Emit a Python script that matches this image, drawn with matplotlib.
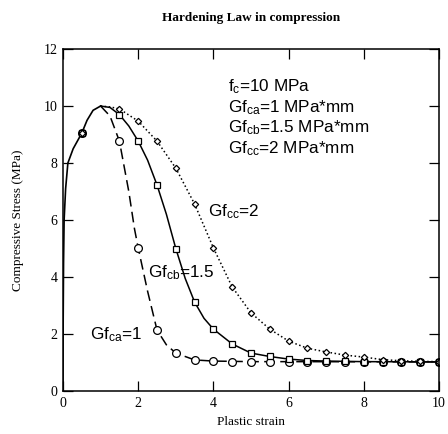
"""
Hardening law in compression: stress vs plastic strain for three fracture energies
"""

import matplotlib
matplotlib.use('Agg')
import matplotlib.pyplot as plt

# shared hardening branch (up to peak fc)
rise_x = [0.0, 0.005, 0.015, 0.03, 0.07, 0.13, 0.27, 0.5, 0.64, 0.8, 1.0]
rise_y = [0.0, 2.5, 4.5, 6.0, 7.1, 8.0, 8.5, 9.05, 9.5, 9.85, 10.0]

# softening branches
a_x = [1.0, 1.25, 1.5, 1.75, 1.9, 2.0, 2.25, 2.5, 2.75, 3.0, 3.5, 4.0, 5.0, 6.0, 10.0]
a_y = [10.0, 9.65, 8.77, 7.0, 5.7, 5.02, 3.5, 2.14, 1.62, 1.33, 1.09, 1.05, 1.03, 1.03, 1.02]
b_x = [1.0, 1.25, 1.5, 1.75, 2.0, 2.25, 2.5, 2.75, 3.0, 3.25, 3.5, 3.75, 4.0, 4.5,
       5.0, 5.5, 6.0, 6.5, 7.0, 8.0, 10.0]
b_y = [10.0, 9.95, 9.7, 9.3, 8.77, 8.1, 7.23, 6.2, 5.0, 3.95, 3.12, 2.55, 2.17, 1.65,
       1.33, 1.21, 1.12, 1.07, 1.05, 1.03, 1.02]
c_x = [1.0, 1.25, 1.5, 2.0, 2.5, 3.0, 3.5, 4.0, 4.5, 5.0, 5.5, 6.0, 6.5, 7.0,
       7.5, 8.0, 8.5, 9.0, 9.5, 10.0]
c_y = [10.0, 9.97, 9.9, 9.47, 8.77, 7.82, 6.56, 5.02, 3.65, 2.74, 2.17, 1.75, 1.5, 1.37,
       1.26, 1.19, 1.1, 1.06, 1.04, 1.03]

# marker positions
ma_x = [0.5, 1.5, 2.0, 2.5, 3.0, 3.5, 4.0, 4.5, 5.0, 5.5, 6.0, 6.5, 7.0, 7.5, 8.0, 8.5, 9.0, 9.5, 10.0]
ma_y = [9.05, 8.77, 5.02, 2.14, 1.33, 1.09, 1.04, 1.03, 1.03, 1.03, 1.03, 1.02, 1.02, 1.02, 1.02,
        1.02, 1.02, 1.02, 1.02]
mb_x = [0.5, 1.5, 2.0, 2.5, 3.0, 3.5, 4.0, 4.5, 5.0, 5.5, 6.0, 6.5, 7.0, 7.5, 8.0, 8.5, 9.0, 9.5, 10.0]
mb_y = [9.05, 9.7, 8.77, 7.23, 5.0, 3.12, 2.17, 1.65, 1.33, 1.22, 1.12, 1.07, 1.05, 1.04, 1.03,
        1.03, 1.02, 1.02, 1.02]
mc_x = [0.5] + c_x[2:]
mc_y = [9.05] + c_y[2:]

notes = ['$f_c$=10 MPa', '$Gf_{ca}$=1 MPa*mm', '$Gf_{cb}$=1.5 MPa*mm', '$Gf_{cc}$=2 MPa*mm']

plt.rcParams['mathtext.default'] = 'regular'
SERIF = 'Liberation Serif'
SANS = 'Liberation Sans'
FS_NOTE = 12.3

fig = plt.figure(figsize=(4.48, 4.34), dpi=100)
ax = fig.add_axes([0.1406, 0.0991, 0.8394, 0.7879])

ax.plot(rise_x, rise_y, color='black', lw=1.2)
ax.plot(a_x, a_y, color='black', lw=1.1, dashes=(7, 3.5))
ax.plot(b_x, b_y, color='black', lw=1.1)
ax.plot(c_x, c_y, color='black', lw=1.1, linestyle=':')

ax.plot(ma_x, ma_y, 'o', ms=5.6, mfc='white', mec='black', mew=0.9)
ax.plot(mb_x, mb_y, 's', ms=4.6, mfc='white', mec='black', mew=0.9)
ax.plot(mc_x, mc_y, 'D', ms=3.2, mfc='white', mec='black', mew=0.9)

ax.set_xlim(0, 10)
ax.set_ylim(0, 12)
ax.set_xticks([0, 2, 4, 6, 8, 10])
ax.set_yticks([0, 2, 4, 6, 8, 10, 12])
ax.tick_params(direction='in', top=True, right=True, length=7, width=0.9,
               labelsize=10, pad=4)
for lab in ax.get_xticklabels() + ax.get_yticklabels():
    lab.set_fontfamily(SERIF)
for sp in ax.spines.values():
    sp.set_linewidth(1.1)

ax.set_title('Hardening Law in compression', fontfamily=SERIF, fontweight='bold',
             fontsize=9.5, pad=20)
ax.set_xlabel('Plastic strain', fontfamily=SERIF, fontsize=9.5, labelpad=5)
ax.set_ylabel('Compressive Stress (MPa)', fontfamily=SERIF, fontsize=9.5, labelpad=14)

# parameter block
for i, s in enumerate(notes):
    ax.text(4.39, 10.68 - 0.72 * i, s, fontfamily=SANS, fontsize=FS_NOTE, va='center')

# curve labels
ax.text(0.72, 1.96, '$Gf_{ca}$=1', fontfamily=SANS, fontsize=FS_NOTE, va='center')
ax.text(2.27, 4.14, '$Gf_{cb}$=1.5', fontfamily=SANS, fontsize=FS_NOTE, va='center')
ax.text(3.86, 6.28, '$Gf_{cc}$=2', fontfamily=SANS, fontsize=FS_NOTE, va='center')

fig.savefig('out.png', dpi=100)
